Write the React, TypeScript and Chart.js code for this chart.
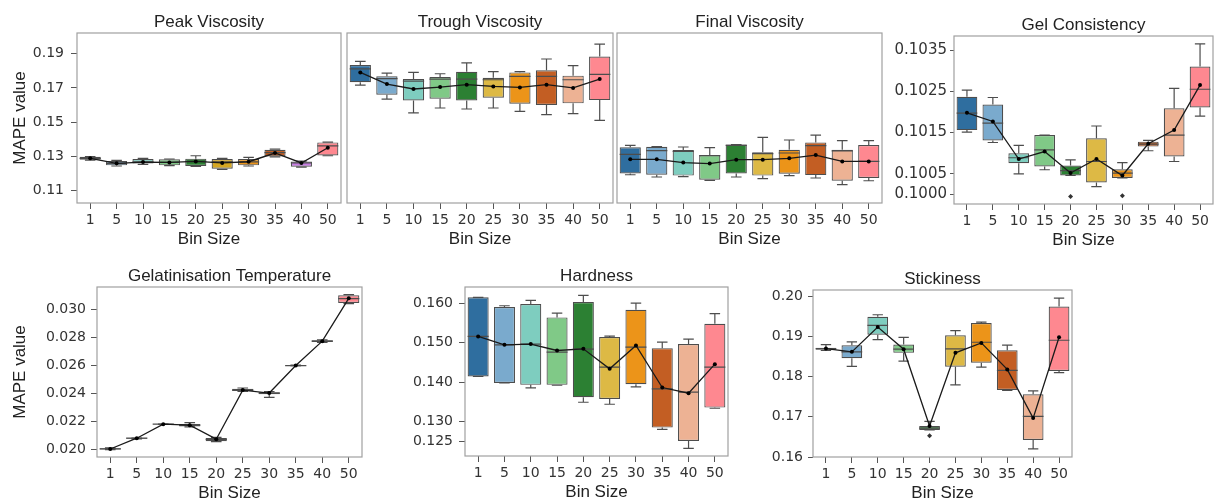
import React, { useEffect, useRef } from 'react';
import { Chart, registerables } from 'chart.js';

Chart.register(...registerables);

// ---------- data ----------
const binSizes = ['1', '5', '10', '15', '20', '25', '30', '35', '40', '50'];

const palette = ['#2F6E9F', '#7AAACD', '#7ECDBF', '#80C987', '#2C8033', '#DDB945', '#EC9419', '#C35E23', '#EDB294', '#FE8890'];
const peakPalette = ['#2F6E9F', '#7AAACD', '#7ECDBF', '#80C987', '#2C8033', '#D6A722', '#EC9419', '#C35E23', '#C77CE3', '#FE8890'];

// each row: [whisker low, Q1, median, Q3, whisker high]
const peakStats = [
  [0.1279, 0.1280, 0.1289, 0.1298, 0.1299],
  [0.1244, 0.1248, 0.1260, 0.1273, 0.1277],
  [0.1254, 0.1258, 0.1268, 0.1285, 0.1289],
  [0.1246, 0.1248, 0.1265, 0.1283, 0.1285],
  [0.1242, 0.1244, 0.1272, 0.1287, 0.1304],
  [0.1224, 0.1228, 0.1268, 0.1285, 0.1289],
  [0.1244, 0.1248, 0.1268, 0.1285, 0.1295],
  [0.1297, 0.1300, 0.1322, 0.1339, 0.1343],
  [0.1238, 0.1240, 0.1262, 0.1271, 0.1273],
  [0.1304, 0.1306, 0.1362, 0.1382, 0.1384],
];
const peakMeans = [0.1289, 0.1260, 0.1267, 0.1265, 0.1271, 0.1262, 0.1269, 0.1320, 0.1262, 0.1351];

const troughStats = [
  [0.1717, 0.1733, 0.1812, 0.1834, 0.1855],
  [0.1635, 0.1661, 0.1754, 0.1768, 0.1787],
  [0.1554, 0.1627, 0.1740, 0.1752, 0.1791],
  [0.1583, 0.1637, 0.1752, 0.1764, 0.1783],
  [0.1577, 0.1627, 0.1752, 0.1795, 0.1847],
  [0.1583, 0.1643, 0.1748, 0.1760, 0.1795],
  [0.1563, 0.1608, 0.1768, 0.1791, 0.1795],
  [0.1544, 0.1600, 0.1768, 0.1803, 0.1869],
  [0.1550, 0.1610, 0.1748, 0.1772, 0.1830],
  [0.1511, 0.1629, 0.1779, 0.1884, 0.1956],
];
const troughMeans = [0.1791, 0.1723, 0.1694, 0.1705, 0.1719, 0.1709, 0.1703, 0.1719, 0.1700, 0.1752];

const finalStats = [
  [0.1193, 0.1201, 0.1312, 0.1353, 0.1365],
  [0.1180, 0.1193, 0.1334, 0.1357, 0.1357],
  [0.1182, 0.1188, 0.1330, 0.1337, 0.1355],
  [0.1160, 0.1164, 0.1304, 0.1308, 0.1351],
  [0.1180, 0.1201, 0.1365, 0.1369, 0.1369],
  [0.1170, 0.1188, 0.1316, 0.1324, 0.1411],
  [0.1188, 0.1199, 0.1320, 0.1339, 0.1396],
  [0.1174, 0.1191, 0.1363, 0.1382, 0.1425],
  [0.1135, 0.1158, 0.1332, 0.1339, 0.1392],
  [0.1158, 0.1174, 0.1271, 0.1367, 0.1392],
];
const finalMeans = [0.1283, 0.1283, 0.1264, 0.1258, 0.1281, 0.1281, 0.1289, 0.1308, 0.1271, 0.1271];

const gelStats = [
  [0.10151, 0.10156, 0.10197, 0.10237, 0.10253],
  [0.10126, 0.10131, 0.10173, 0.10218, 0.10235],
  [0.10050, 0.10076, 0.10089, 0.10100, 0.10119],
  [0.10060, 0.10068, 0.10108, 0.10144, 0.10144],
  [0.10046, 0.10046, 0.10058, 0.10070, 0.10084],
  [0.10019, 0.10029, 0.10080, 0.10136, 0.10166],
  [0.10040, 0.10040, 0.10052, 0.10061, 0.10077],
  [0.10106, 0.10116, 0.10122, 0.10128, 0.10131],
  [0.10080, 0.10092, 0.10144, 0.10209, 0.10257],
  [0.10190, 0.10211, 0.10255, 0.10310, 0.10365],
];
const gelMeans = [0.10198, 0.10177, 0.10086, 0.10104, 0.10052, 0.10086, 0.10046, 0.10123, 0.10156, 0.10265];
const gelOutliers = [null, null, null, null, 0.09995, null, 0.09997, null, null, null];

const gelatStats = [
  [0.01998, 0.01999, 0.02003, 0.02008, 0.02010],
  [0.02074, 0.02075, 0.02079, 0.02081, 0.02082],
  [0.02177, 0.02178, 0.02179, 0.02181, 0.02182],
  [0.02160, 0.02163, 0.02172, 0.02180, 0.02190],
  [0.02055, 0.02058, 0.02070, 0.02081, 0.02085],
  [0.02412, 0.02416, 0.02422, 0.02431, 0.02437],
  [0.02370, 0.02392, 0.02401, 0.02407, 0.02412],
  [0.02594, 0.02595, 0.02597, 0.02599, 0.02600],
  [0.02762, 0.02765, 0.02771, 0.02777, 0.02781],
  [0.03039, 0.03043, 0.03074, 0.03098, 0.03103],
];
const gelatMeans = [0.02002, 0.02079, 0.02179, 0.02172, 0.02072, 0.02422, 0.02401, 0.02597, 0.02771, 0.03076];

const hardStats = [
  [0.14141, 0.14141, 0.15155, 0.16144, 0.16144],
  [0.13980, 0.13980, 0.14944, 0.15899, 0.15932],
  [0.13854, 0.13930, 0.14961, 0.15975, 0.16068],
  [0.13920, 0.13930, 0.14758, 0.15637, 0.15747],
  [0.13490, 0.13617, 0.14834, 0.16025, 0.16194],
  [0.13439, 0.13575, 0.14377, 0.15138, 0.15163],
  [0.13879, 0.13946, 0.14884, 0.15831, 0.16000],
  [0.12806, 0.12848, 0.13828, 0.14859, 0.15011],
  [0.12324, 0.12510, 0.13744, 0.14961, 0.15087],
  [0.13338, 0.13355, 0.14377, 0.15476, 0.15730],
];
const hardMeans = [0.15155, 0.14944, 0.14961, 0.14800, 0.14842, 0.14335, 0.14927, 0.13862, 0.13718, 0.14453];

const stickStats = [
  [0.18646, 0.18663, 0.18690, 0.18712, 0.18794],
  [0.18251, 0.18457, 0.18613, 0.18778, 0.18860],
  [0.18918, 0.19041, 0.19272, 0.19486, 0.19535],
  [0.18383, 0.18588, 0.18679, 0.18794, 0.18975],
  [0.16671, 0.16671, 0.16720, 0.16770, 0.16885],
  [0.17790, 0.18243, 0.18687, 0.19025, 0.19140],
  [0.18235, 0.18342, 0.18852, 0.19329, 0.19354],
  [0.17658, 0.17667, 0.18152, 0.18654, 0.18778],
  [0.16202, 0.16424, 0.17008, 0.17560, 0.17642],
  [0.18095, 0.18136, 0.18901, 0.19741, 0.19947],
];
const stickMeans = [0.18695, 0.18613, 0.19230, 0.18679, 0.16770, 0.18588, 0.18835, 0.18177, 0.16967, 0.18975];
const stickOutliers = [null, null, null, null, 0.16531, null, null, null, null, null];

// tick labels
const viscosityYTicks = ['0.11', '0.13', '0.15', '0.17', '0.19'];
const gelYTicks = ['0.1000', '0.1005', '0.1015', '0.1025', '0.1035'];
const gelatYTicks = ['0.020', '0.022', '0.024', '0.026', '0.028', '0.030'];
const hardYTicks = ['0.125', '0.130', '0.140', '0.150', '0.160'];
const stickYTicks = ['0.16', '0.17', '0.18', '0.19', '0.20'];

// ---------- layout ----------
type Panel = {
  title: string;
  stats: number[][];
  means: number[];
  outliers: (number | null)[] | null;
  colors: string[];
  yMin: number;
  yMax: number;
  yTicks: string[] | null;
  yTitle: string | null;
  rect: [number, number, number, number];
  padL: number;
  tickFont: number;
  tickLen: number;
  tickPad: number;
};

const panels: Panel[] = [
  { title: 'Peak Viscosity', stats: peakStats, means: peakMeans, outliers: null, colors: peakPalette,
    yMin: 0.1028, yMax: 0.2021, yTicks: viscosityYTicks, yTitle: 'MAPE value', rect: [77, 33, 341, 203], padL: 70, tickFont: 14, tickLen: 6, tickPad: 7 },
  { title: 'Trough Viscosity', stats: troughStats, means: troughMeans, outliers: null, colors: palette,
    yMin: 0.1028, yMax: 0.2021, yTicks: null, yTitle: null, rect: [347, 33, 613, 203], padL: 4, tickFont: 14, tickLen: 6, tickPad: 7 },
  { title: 'Final Viscosity', stats: finalStats, means: finalMeans, outliers: null, colors: palette,
    yMin: 0.1028, yMax: 0.2021, yTicks: null, yTitle: null, rect: [617, 33, 882, 203], padL: 4, tickFont: 14, tickLen: 6, tickPad: 7 },
  { title: 'Gel Consistency', stats: gelStats, means: gelMeans, outliers: gelOutliers, colors: palette,
    yMin: 0.09977, yMax: 0.10384, yTicks: gelYTicks, yTitle: null, rect: [954, 36, 1213, 204], padL: 70, tickFont: 15, tickLen: 4, tickPad: 3 },
  { title: 'Gelatinisation Temperature', stats: gelatStats, means: gelatMeans, outliers: null, colors: palette,
    yMin: 0.01945, yMax: 0.03157, yTicks: gelatYTicks, yTitle: 'MAPE value', rect: [97, 287, 362, 457], padL: 90, tickFont: 14, tickLen: 6, tickPad: 5 },
  { title: 'Hardness', stats: hardStats, means: hardMeans, outliers: null, colors: palette,
    yMin: 0.1213, yMax: 0.16406, yTicks: hardYTicks, yTitle: null, rect: [465, 287, 728, 456], padL: 70, tickFont: 14, tickLen: 6, tickPad: 6 },
  { title: 'Stickiness', stats: stickStats, means: stickMeans, outliers: stickOutliers, colors: palette,
    yMin: 0.1600, yMax: 0.2015, yTicks: stickYTicks, yTitle: null, rect: [813, 290, 1072, 457], padL: 65, tickFont: 14, tickLen: 5, tickPad: 5 },
];

const PAD_T = 32;
const PAD_B = 50;
const PAD_R = 4;
const TITLE_FONT = "'Liberation Sans', Arial, sans-serif";
const TICK_FONT = "'DejaVu Sans', sans-serif";

function boxWhiskerPlugin(stats: number[][]) {
  return {
    id: 'boxWhiskers',
    afterDatasetDraw(chart: any, args: any) {
      if (args.meta.type !== 'bar') return;
      const { ctx, scales } = chart;
      const x = scales.x;
      const y = scales.y;
      const area = chart.chartArea;
      ctx.save();
      ctx.beginPath();
      ctx.rect(area.left, area.top, area.right - area.left, area.bottom - area.top);
      ctx.clip();
      ctx.strokeStyle = '#4d4d4d';
      ctx.lineWidth = 1.2;
      args.meta.data.forEach((bar: any, i: number) => {
        const [lo, q1, med, q3, hi] = stats[i];
        const cx = x.getPixelForValue(i);
        const w = bar.width;
        const cap = w / 4;
        const yLo = y.getPixelForValue(lo);
        const yQ1 = y.getPixelForValue(q1);
        const yMed = y.getPixelForValue(med);
        const yQ3 = y.getPixelForValue(q3);
        const yHi = y.getPixelForValue(hi);
        ctx.beginPath();
        ctx.moveTo(cx, yQ3);
        ctx.lineTo(cx, yHi);
        ctx.moveTo(cx - cap, yHi);
        ctx.lineTo(cx + cap, yHi);
        ctx.moveTo(cx, yQ1);
        ctx.lineTo(cx, yLo);
        ctx.moveTo(cx - cap, yLo);
        ctx.lineTo(cx + cap, yLo);
        ctx.moveTo(cx - w / 2, yMed);
        ctx.lineTo(cx + w / 2, yMed);
        ctx.stroke();
      });
      ctx.restore();
    },
  };
}

const framePlugin = {
  id: 'frame',
  afterDatasetsDraw(chart: any) {
    const { ctx, chartArea } = chart;
    ctx.save();
    ctx.strokeStyle = '#a0a0a0';
    ctx.lineWidth = 1.2;
    ctx.strokeRect(chartArea.left, chartArea.top, chartArea.right - chartArea.left, chartArea.bottom - chartArea.top);
    ctx.restore();
  },
};

function buildChart(canvas: HTMLCanvasElement, p: Panel) {
  const tickValues = p.yTicks ? p.yTicks.map((t) => parseFloat(t)) : [];
  const datasets: any[] = [
    {
      type: 'bar',
      data: p.stats.map((s) => [s[1], s[3]]),
      backgroundColor: p.colors,
      borderColor: '#4d4d4d',
      borderWidth: 1.2,
      borderSkipped: false,
      barPercentage: 0.8,
      categoryPercentage: 1,
      order: 2,
    },
    {
      type: 'line',
      data: p.means,
      borderColor: '#1a1a1a',
      borderWidth: 1.3,
      pointRadius: 2,
      pointBackgroundColor: '#000',
      pointBorderWidth: 0,
      fill: false,
      order: 1,
    },
  ];
  if (p.outliers) {
    datasets.push({
      type: 'line',
      data: p.outliers,
      showLine: false,
      pointStyle: 'rectRot',
      pointRadius: 2.5,
      pointBackgroundColor: '#333',
      pointBorderWidth: 0,
      order: 0,
    });
  }
  return new Chart(canvas, {
    type: 'bar',
    data: { labels: binSizes, datasets },
    plugins: [boxWhiskerPlugin(p.stats), framePlugin],
    options: {
      responsive: false,
      animation: false,
      events: [],
      devicePixelRatio: 1,
      layout: { padding: { left: 0, right: PAD_R, top: 0, bottom: 0 } },
      plugins: {
        legend: { display: false },
        tooltip: { enabled: false },
        title: {
          display: true,
          text: p.title,
          fullSize: false,
          color: '#222',
          font: { family: TITLE_FONT, size: 17, weight: 'normal', lineHeight: 1.2 },
          padding: { top: 10.8, bottom: PAD_T - 20.4 - 10.8 },
        },
      },
      scales: {
        x: {
          type: 'category',
          offset: true,
          afterFit: (scale: any) => {
            scale.height = PAD_B;
          },
          border: { display: false },
          grid: { offset: false, drawOnChartArea: false, drawTicks: true, tickLength: 6, color: '#555', lineWidth: 1 },
          ticks: {
            autoSkip: false,
            maxRotation: 0,
            padding: 3,
            color: '#333',
            font: { family: TICK_FONT, size: 14 },
          },
          title: {
            display: true,
            text: 'Bin Size',
            color: '#222',
            font: { family: TITLE_FONT, size: 17, lineHeight: 1.2 },
            padding: { top: 0, bottom: 3.8 },
          },
        },
        y: {
          type: 'linear',
          min: p.yMin,
          max: p.yMax,
          afterFit: (scale: any) => {
            scale.width = p.padL;
          },
          afterBuildTicks: (scale: any) => {
            scale.ticks = tickValues.map((v) => ({ value: v }));
          },
          border: { display: false },
          grid: {
            display: !!p.yTicks,
            drawOnChartArea: false,
            drawTicks: !!p.yTicks,
            tickLength: p.tickLen,
            color: '#555',
            lineWidth: 1,
          },
          ticks: {
            display: !!p.yTicks,
            padding: p.tickPad,
            color: '#333',
            font: { family: TICK_FONT, size: p.tickFont },
            callback: (_v: any, i: number) => (p.yTicks ? p.yTicks[i] : ''),
          },
          title: {
            display: !!p.yTitle,
            text: p.yTitle || '',
            color: '#222',
            font: { family: TITLE_FONT, size: 17, lineHeight: 1.2 },
            padding: { top: 3, bottom: 0 },
          },
        },
      },
    } as any,
  });
}

export default function App() {
  const refs = useRef<(HTMLCanvasElement | null)[]>([]);

  useEffect(() => {
    const charts = panels.map((p, i) => buildChart(refs.current[i] as HTMLCanvasElement, p));
    return () => {
      charts.forEach((c) => c.destroy());
    };
  }, []);

  return (
    <div
      style={{
        position: 'absolute',
        left: 0,
        top: 0,
        width: 1218,
        height: 499,
        overflow: 'hidden',
        background: '#fff',
      }}
    >
      {panels.map((p, i) => {
        const [L, T, R, B] = p.rect;
        const w = R - L + p.padL + PAD_R;
        const h = B - T + PAD_T + PAD_B;
        return (
          <canvas
            key={p.title}
            ref={(el) => {
              refs.current[i] = el;
            }}
            width={w}
            height={h}
            style={{ position: 'absolute', left: L - p.padL, top: T - PAD_T, width: w, height: h }}
          />
        );
      })}
    </div>
  );
}
